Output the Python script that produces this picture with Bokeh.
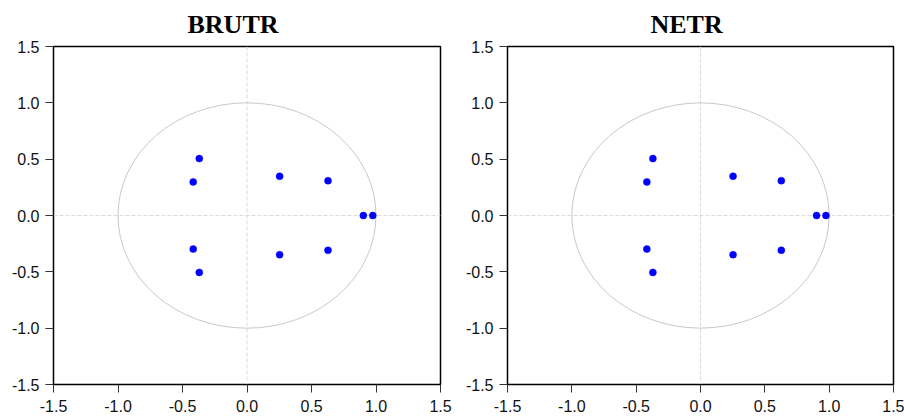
from bokeh.plotting import figure
from bokeh.layouts import row
from bokeh.models import Range1d, FixedTicker, Span, NumeralTickFormatter
from bokeh.embed import file_html
from bokeh.resources import INLINE

titles = ["BRUTR", "NETR"]
# inverse roots of AR characteristic polynomial (real, imaginary)
brutr_re = [-0.37, -0.37, -0.417, -0.417, 0.253, 0.253, 0.628, 0.628, 0.902, 0.975]
brutr_im = [0.505, -0.505, 0.298, -0.298, 0.348, -0.348, 0.309, -0.309, 0.0, 0.0]
netr_re = [-0.37, -0.37, -0.417, -0.417, 0.253, 0.253, 0.628, 0.628, 0.902, 0.975]
netr_im = [0.505, -0.505, 0.298, -0.298, 0.348, -0.348, 0.309, -0.309, 0.0, 0.0]
tick_values = [-1.5, -1.0, -0.5, 0.0, 0.5, 1.0, 1.5]
unit_circle_center = [0.0]
unit_circle_diameter = [2.0]

def make_panel(title, re, im, width, bl, br, title_offset):
    p = figure(width=width, height=419, output_backend="svg", toolbar_location=None,
               x_range=Range1d(-1.5, 1.5), y_range=Range1d(-1.5, 1.5),
               min_border_left=bl, min_border_right=br, min_border_top=46, min_border_bottom=35,
               title=title)
    p.title.text_font = "Liberation Serif"
    p.title.text_font_style = "bold"
    p.title.text_font_size = "26px"
    p.title.text_color = "black"
    p.title.align = "left"
    p.title.offset = title_offset
    p.title.standoff = 15
    p.xgrid.visible = False
    p.ygrid.visible = False
    p.outline_line_color = "black"
    p.outline_line_width = 1.5
    p.background_fill_color = "white"
    p.border_fill_color = "white"
    for ax, so in ((p.xaxis[0], 7), (p.yaxis[0], 6)):
        ax.ticker = FixedTicker(ticks=tick_values)
        ax.formatter = NumeralTickFormatter(format="0.0")
        ax.major_label_text_font = "Liberation Sans"
        ax.major_label_text_font_size = "16px"
        ax.major_label_text_color = "#111111"
        ax.major_tick_out = 8
        ax.major_tick_in = 0
        ax.minor_tick_out = 0
        ax.minor_tick_in = 0
        ax.axis_line_color = "black"
        ax.major_tick_line_color = "#333333"
        ax.major_label_standoff = so
    p.add_layout(Span(location=0, dimension="width", line_color="#dadada", line_dash="4 2",
                      line_width=1, level="underlay"))
    p.add_layout(Span(location=0, dimension="height", line_color="#dadada", line_dash="4 2",
                      line_width=1, level="underlay"))
    p.ellipse(x=unit_circle_center, y=unit_circle_center, width=unit_circle_diameter,
              height=unit_circle_diameter, fill_color=None, line_color="#c8c8c8", line_width=1)
    p.scatter(x=re, y=im, size=7, fill_color="#0000ff", line_color="#0000ff", line_width=0.5)
    return p

p1 = make_panel(titles[0], brutr_re, brutr_im, 462, 53, 22, 134)
p2 = make_panel(titles[1], netr_re, netr_im, 442, 45, 11, 143)
layout = row(p1, p2)
open("out.html", "w").write(file_html(layout, INLINE))
